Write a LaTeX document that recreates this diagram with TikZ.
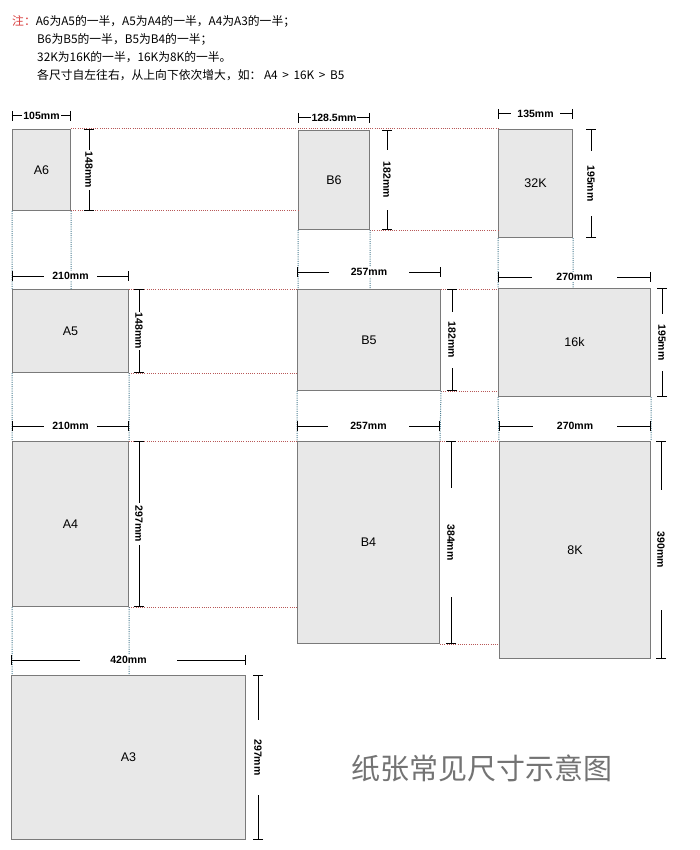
\documentclass[tikz,border=0pt]{standalone}
\usepackage{fontspec}
\setmainfont{Liberation Sans}
\newfontfamily\cjk{Noto Sans CJK SC}
\usetikzlibrary{arrows.meta, positioning}
\definecolor{paperfill}{HTML}{E8E8E8}
\definecolor{paperedge}{HTML}{7A7A7A}
\definecolor{hdot}{HTML}{B85858}
\definecolor{vdot}{HTML}{4A7C90}
\definecolor{notered}{HTML}{D83C3C}
\tikzset{
x=1pt, y=-1pt, % one unit is one pixel, y runs downwards
paper/.style={draw=paperedge, fill=paperfill, line width=1pt, anchor=north west, inner sep=0pt, font=\fontsize{12.5}{14}\selectfont}, % one sheet
dimline/.style={{Bar[width=10pt]}-{Bar[width=10pt]}, line width=1pt}, % the size arrows
dimtext/.style={fill=white, inner ysep=1pt, inner xsep=#1, font=\bfseries\fontsize{10.5}{12}\selectfont}, % breaks the size arrow
dimtext/.default=2pt,
hguide/.style={hdot, line width=1pt, dash pattern=on 1pt off 1.2pt}, % dotted, across
vguide/.style={vdot, line width=1pt, dash pattern=on 1pt off 1.2pt}, % dotted, down
note/.style={anchor=west, inner sep=0pt, font=\cjk\fontsize{11.8}{13}\selectfont},
}
\begin{document}
\begin{tikzpicture}
  \useasboundingbox (0,0) rectangle (699,850);

  % the note
  \node[note] (note1) at (12,21) {\textcolor{notered}{注：}A6为A5的一半，A5为A4的一半，A4为A3的一半；};
  \node[note] (note2) at (37,39) {B6为B5的一半，B5为B4的一半；};
  \node[note] (note3) at (37,57) {32K为16K的一半，16K为8K的一半。};
  \node[note] (note4) at (37,75) {各尺寸自左往右，从上向下依次增大，如： A4 \,>\, 16K \,>\, B5};

  % the sheets
  \node[paper, minimum width=58pt, minimum height=81pt] (A6) at (12,129) {A6};
  \node[paper, minimum width=71pt, minimum height=99pt] (B6) at (298,130) {B6};
  \node[paper, minimum width=74pt, minimum height=108pt] (K32) at (498,129) {32K};
  \node[paper, minimum width=116pt, minimum height=83pt] (A5) at (12,289) {A5};
  \node[paper, minimum width=143pt, minimum height=101pt] (B5) at (297,289) {B5};
  \node[paper, minimum width=152pt, minimum height=108pt] (K16) at (498,288) {16k};
  \node[paper, minimum width=116pt, minimum height=165pt] (A4) at (12,441) {A4};
  \node[paper, minimum width=142pt, minimum height=202pt] (B4) at (297,441) {B4};
  \node[paper, minimum width=151pt, minimum height=217pt] (K8) at (499,441) {8K};
  \node[paper, minimum width=234pt, minimum height=164pt] (A3) at (11,675) {A3};

  % dotted guides
  \draw[hguide] (A6.north east) -- (K32.north west)
  (A6.south east) -- (A6.south east -| B6.west)
  (B6.south east) -- (B6.south east -| K32.west)
  (A5.north east) -- (B5.north west)
  (B5.north east) -- (B5.north east -| K16.west)
  (A5.south east) -- (A5.south east -| B5.west)
  (B5.south east) -- (B5.south east -| K16.west)
  (A4.north east) -- (B4.north west)
  (B4.north east) -- (K8.north west)
  (A4.south east) -- (A4.south east -| B4.west)
  (B4.south east) -- (B4.south east -| K8.west);
  \draw[vguide] (A6.south west) -- (A5.north west)
  (A6.south east) -- (A6.south east |- A5.north)
  (A5.south west) -- (A4.north west)
  (A5.south east) -- (A4.north east)
  (A4.south west) -- (A4.south west |- A3.north)
  (A4.south east) -- (A4.south east |- A3.north)
  (B6.south west) -- (B6.south west |- B5.north)
  (B6.south east) -- (B6.south east |- B5.north)
  (B5.south west) -- (B4.north west)
  (B5.south east) -- (B4.north east)
  (K32.south west) -- (K32.south west |- K16.north)
  (K32.south east) -- (K32.south east |- K16.north)
  (K16.south west) -- (K8.north west)
  (K16.south east) -- (K8.north east);

  % sizes
  \draw[dimline] ([yshift=13pt]A6.north west) -- node[dimtext=1pt]{105mm} ([yshift=13pt]A6.north east);
  \draw[dimline] ([xshift=18pt]A6.north east) -- node[dimtext, rotate=-90]{148mm} ([xshift=18pt]A6.south east);
  \draw[dimline] ([yshift=12pt]B6.north west) -- node[dimtext=1pt]{128.5mm} ([yshift=12pt]B6.north east);
  \draw[dimline] ([xshift=17pt]B6.north east) -- node[dimtext=12pt, rotate=-90]{182mm} ([xshift=17pt]B6.south east);
  \draw[dimline] ([yshift=15pt]K32.north west) -- node[dimtext=6pt]{135mm} ([yshift=15pt]K32.north east);
  \draw[dimline] ([xshift=18pt]K32.north east) -- node[dimtext=14pt, rotate=-90]{195mm} ([xshift=18pt]K32.south east);
  \draw[dimline] ([yshift=13pt]A5.north west) -- node[dimtext=8pt]{210mm} ([yshift=13pt]A5.north east);
  \draw[dimline] ([xshift=10pt]A5.north east) -- node[dimtext=1pt, rotate=-90]{148mm} ([xshift=10pt]A5.south east);
  \draw[dimline] ([yshift=17pt]B5.north west) -- node[dimtext=22pt]{257mm} ([yshift=17pt]B5.north east);
  \draw[dimline] ([xshift=11pt]B5.north east) -- node[dimtext=10pt, rotate=-90]{182mm} ([xshift=11pt]B5.south east);
  \draw[dimline] ([yshift=11pt]K16.north west) -- node[dimtext=24pt]{270mm} ([yshift=11pt]K16.north east);
  \draw[dimline] ([xshift=11pt]K16.north east) -- node[dimtext=10pt, rotate=-90]{195mm} ([xshift=11pt]K16.south east);
  \draw[dimline] ([yshift=15pt]A4.north west) -- node[dimtext=8pt]{210mm} ([yshift=15pt]A4.north east);
  \draw[dimline] ([xshift=10pt]A4.north east) -- node[dimtext=3pt, rotate=-90]{297mm} ([xshift=10pt]A4.south east);
  \draw[dimline] ([yshift=15pt]B4.north west) -- node[dimtext=22pt]{257mm} ([yshift=15pt]B4.north east);
  \draw[dimline] ([xshift=11pt]B4.north east) -- node[dimtext=36pt, rotate=-90]{384mm} ([xshift=11pt]B4.south east);
  \draw[dimline] ([yshift=15pt]K8.north west) -- node[dimtext=24pt]{270mm} ([yshift=15pt]K8.north east);
  \draw[dimline] ([xshift=10pt]K8.north east) -- node[dimtext=42pt, rotate=-90]{390mm} ([xshift=10pt]K8.south east);
  \draw[dimline] ([yshift=15pt]A3.north west) -- node[dimtext=30pt]{420mm} ([yshift=15pt]A3.north east);
  \draw[dimline] ([xshift=12pt]A3.north east) -- node[dimtext=19pt, rotate=-90]{297mm} ([xshift=12pt]A3.south east);

  % the title
  \node[font=\cjk\fontsize{29}{32}\selectfont, text=black!55] (title) at (482,768) {纸张常见尺寸示意图};
\end{tikzpicture}
\end{document}
